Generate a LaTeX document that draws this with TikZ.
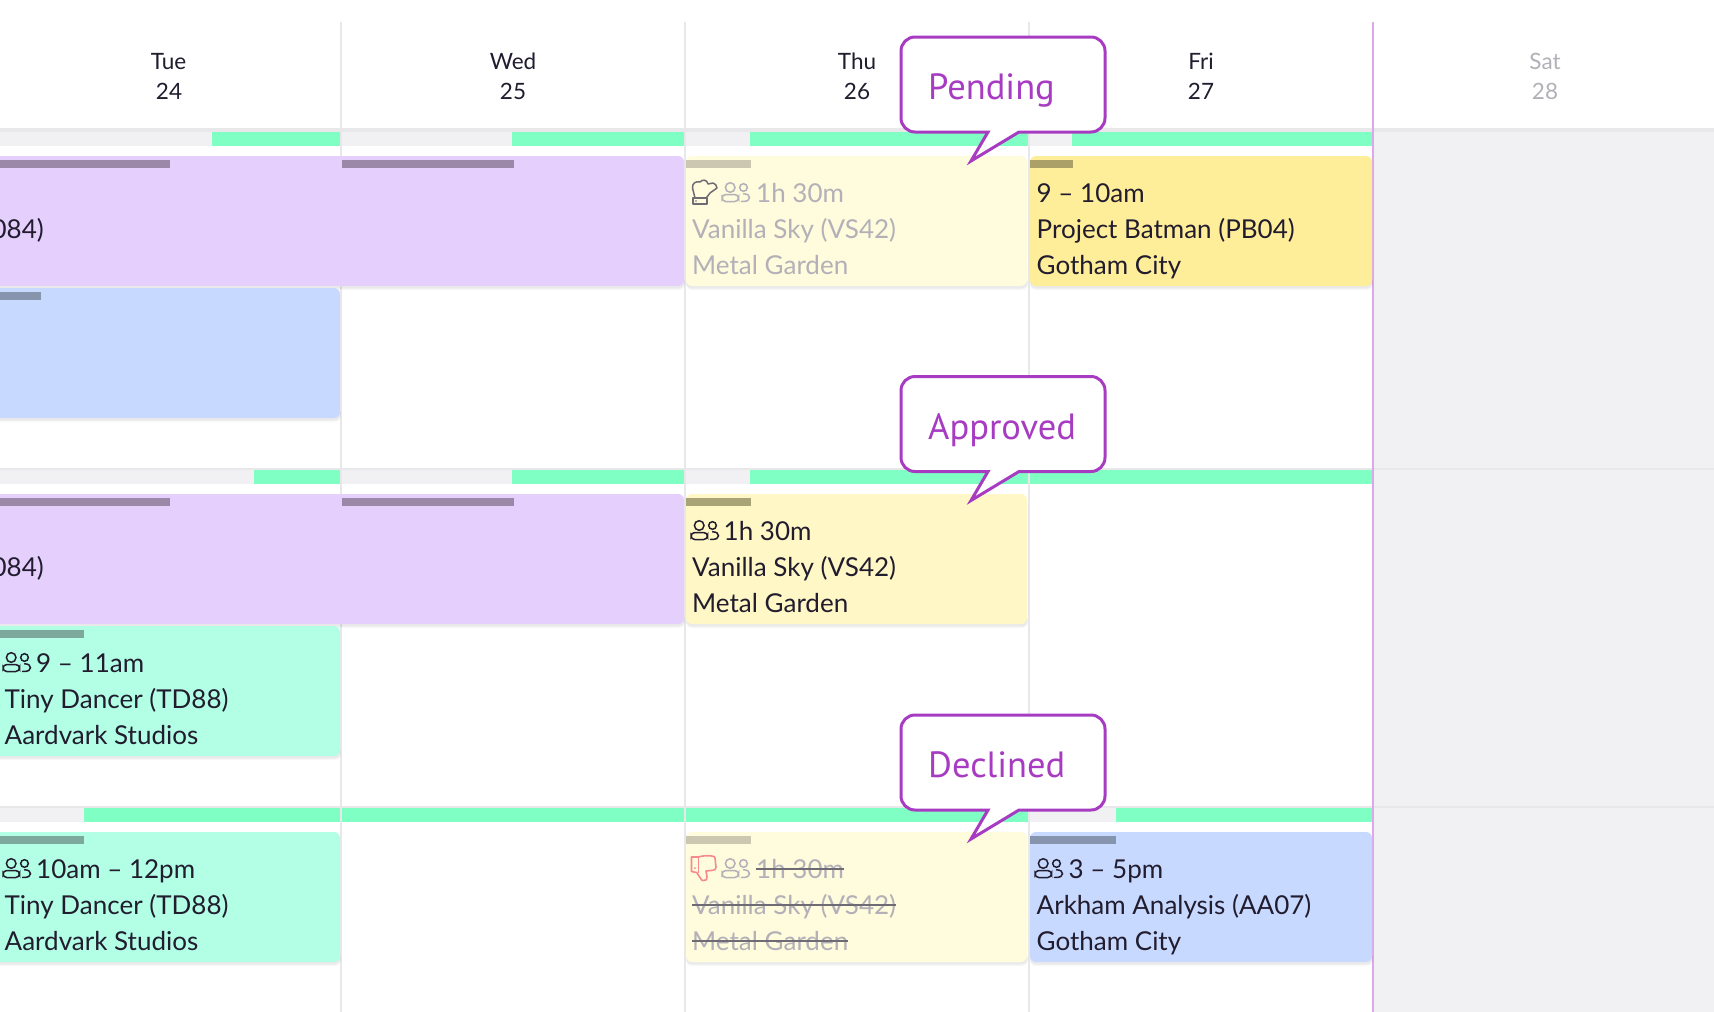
\documentclass[tikz,border=0pt]{standalone}
\usepackage{fontspec}
\setmainfont{Lato}
\newfontfamily\calloutfont{PT Sans}
\definecolor{ink}{HTML}{211C2E}
\definecolor{faded}{HTML}{B3B0B8}
\definecolor{gridl}{HTML}{E8E8EA}
\definecolor{greybg}{HTML}{F1F1F3}
\definecolor{mint}{HTML}{7FFFC4}
\definecolor{violetc}{HTML}{E4CFFD}
\definecolor{violets}{HTML}{9B88A9}
\definecolor{bluec}{HTML}{C8D9FF}
\definecolor{blues}{HTML}{8794AE}
\definecolor{greenc}{HTML}{B2FFE5}
\definecolor{greens}{HTML}{7CA99C}
\definecolor{yellowc}{HTML}{FFEE99}
\definecolor{yellows}{HTML}{ABA067}
\definecolor{creamc}{HTML}{FFF8C6}
\definecolor{creams}{HTML}{A9A478}
\definecolor{paleC}{HTML}{FFFBDD}
\definecolor{pales}{HTML}{CBC7B0}
\definecolor{calloutc}{HTML}{A73CC2}
\definecolor{satline}{HTML}{DDA8EA}
\definecolor{thumb}{HTML}{F58A8E}
\definecolor{striket}{HTML}{6E6B75}
\tikzset{
  x=1pt,y=1pt,
  cardtext/.style={anchor=base west,inner sep=0pt,font=\fontsize{26}{26}\selectfont,text=ink},
  fadedtext/.style={cardtext,text=faded},
  headtext/.style={anchor=base,inner sep=0pt,font=\fontsize{22.5}{22.5}\selectfont,text=ink},
  calltext/.style={anchor=base west,inner sep=0pt,font=\calloutfont\fontsize{36.5}{36.5}\selectfont,text=calloutc},
  callbox/.style={draw=calloutc,line width=3pt,fill=white,line join=miter},
  striked/.style={draw=striket,line width=2.2pt},
  gridrule/.style={draw=gridl,line width=2pt}
}
% card: x0,x1,top(y down),fill,stripcolor,stripwidth
\newcommand{\cardbox}[6]{%
  \fill[black,opacity=.03] (#1,-#3-134) [rounded corners=6pt] rectangle (#2+1,-#3-120);
  \fill[black,opacity=.05] (#1,-#3-132.5) [rounded corners=6pt] rectangle (#2+.5,-#3-120);
  \fill[#4,rounded corners=6pt] (#1,-#3) rectangle (#2,-#3-130);
  \fill[#5] (#1,-#3-4) rectangle ({#1+#6},-#3-12);}
% people icon, lower-left corner at x,y(y down), colour
\newcommand{\peopleicon}[3]{%
  \begin{scope}[shift={(#1,-#2)},draw=#3,line width=1.5pt,line cap=round]
    \draw (9.2,14.5) circle (4.8);
    \draw[rounded corners=3.8pt] (1,0.5) rectangle (17.5,7.5);
    \draw (22.5,14.5) circle (3.8);
    \draw (22.5,8.2) .. controls (26.5,8.2) and (28.5,6.5) .. (28.5,4.2) .. controls (28.5,1.8) and (26.5,0.5) .. (20.5,0.5);
  \end{scope}}
\begin{document}
\begin{tikzpicture}
\useasboundingbox (0,0) rectangle (1714,-1012);
\fill[white] (0,0) rectangle (1714,-1012);
% Saturday column
\fill[greybg] (1373,-132) rectangle (1714,-1012);
% row rules
\foreach \ry in {468.5,806.5} {\draw[gridrule] (0,-\ry) -- (1714,-\ry);}
\draw[gridrule,line width=4pt] (0,-130) -- (1714,-130);
% availability bars
\foreach \ry in {132,470,808} {\fill[greybg] (0,-\ry) rectangle (1373,-\ry-14);}
\foreach \a/\b/\ry in {212/340/132,512/684/132,750/1028/132,1072/1372/132,
  254/340/470,512/684/470,750/1028/470,1030/1372/470,
  84/340/808,342/684/808,686/1028/808,1116/1372/808}
  {\fill[mint] (\a,-\ry) rectangle (\b,-\ry-14);}
% column rules
\foreach \cx in {341,685,1029} {\draw[gridrule] (\cx,-22) -- (\cx,-1012);}
\draw[satline,line width=2pt] (1373,-22) -- (1373,-1012);
% cards
\cardbox{-20}{684}{156}{violetc}{white}{0}
\fill[violets] (0,-160) rectangle (170,-168); \fill[violets] (342,-160) rectangle (514,-168);
\cardbox{-20}{340}{288}{bluec}{blues}{61}
\cardbox{686}{1027}{156}{paleC}{pales}{65}
\cardbox{1030}{1372}{156}{yellowc}{yellows}{43}
\cardbox{-20}{684}{494}{violetc}{white}{0}
\fill[violets] (0,-498) rectangle (170,-506); \fill[violets] (342,-498) rectangle (514,-506);
\cardbox{-20}{340}{626}{greenc}{greens}{104}
\cardbox{686}{1027}{494}{creamc}{creams}{65}
\cardbox{-20}{340}{832}{greenc}{greens}{104}
\cardbox{686}{1027}{832}{paleC}{pales}{65}
\cardbox{1030}{1372}{832}{bluec}{blues}{86}
% headers
\node[headtext] (tue) at (168.5,-69) {Tue};
\node[headtext] (tuen) at (169,-99.5) {24};
\node[headtext] (wed) at (513,-69) {Wed};
\node[headtext] (wedn) at (513,-99.5) {25};
\node[headtext] (thu) at (857,-69) {Thu};
\node[headtext] (thun) at (857,-99.5) {26};
\node[headtext] (fri) at (1201,-69) {Fri};
\node[headtext] (frin) at (1201,-99.5) {27};
\node[headtext,text=faded] (sat) at (1545,-69) {Sat};
\node[headtext,text=faded] (satn) at (1545,-99.5) {28};
% clipped purple titles
\begin{scope}
\clip (0,0) rectangle (1714,-1012);
\node[cardtext,anchor=base east] (purpa) at (44,-238) {D084)};
\node[cardtext,anchor=base east] (purpb) at (44,-576) {D084)};
\end{scope}
% row 1
\peopleicon{721}{202}{faded}
\begin{scope}[shift={(692,-204)},draw=striket,line width=1.5pt,line join=round]
  \draw (3,6) -- (0.5,16) .. controls (0,21) and (4,23) .. (8,22) .. controls (10,24.5) and (15,25) .. (16,20) -- (21,21) .. controls (23,21) and (25,18) .. (25,16) -- (18,11) -- (15,7) -- (14,6);
  \draw (1,0) rectangle (15,6);
  \fill[striket] (4,3) circle (.8);
\end{scope}
\node[fadedtext] (a1) at (756,-202) {1h 30m};
\node[fadedtext] (a2) at (692,-238) {Vanilla Sky (VS42)};
\node[fadedtext] (a3) at (692,-274) {Metal Garden};
\node[cardtext] (b1) at (1036.5,-202) {9 – 10am};
\node[cardtext] (b2) at (1036.5,-238) {Project Batman (PB04)};
\node[cardtext] (b3) at (1036.5,-274) {Gotham City};
% row 2
\peopleicon{690}{540}{ink}
\node[cardtext] (c1) at (723.5,-540) {1h 30m};
\node[cardtext] (c2) at (692,-576) {Vanilla Sky (VS42)};
\node[cardtext] (c3) at (692,-612) {Metal Garden};
\peopleicon{2}{672}{ink}
\node[cardtext] (d1) at (36,-672) {9 – 11am};
\node[cardtext] (d2) at (4.5,-708) {Tiny Dancer (TD88)};
\node[cardtext] (d3) at (4.5,-744) {Aardvark Studios};
% row 3
\peopleicon{2}{878}{ink}
\node[cardtext] (e1) at (36,-878) {10am – 12pm};
\node[cardtext] (e2) at (4.5,-914) {Tiny Dancer (TD88)};
\node[cardtext] (e3) at (4.5,-950) {Aardvark Studios};
\peopleicon{721}{878}{faded}
\begin{scope}[shift={(691,-878)},draw=thumb,line width=1.6pt,line join=round]
  \draw (0.5,6.5) -- (0.5,21) -- (7.3,21) .. controls (12,22.5) and (18,22.5) .. (20.7,22) .. controls (23,22) and (24,21) .. (24,20) -- (25,11) .. controls (25,9) and (24,7.7) .. (22,7.7) -- (15,7) -- (16,1.3) .. controls (16,-2) and (14,-3) .. (12,-2.5) -- (10.7,-2) -- (5.7,5.5) -- cycle;
  \draw (7.3,21) -- (7.3,5);
  \fill[thumb] (4,10) circle (1);
\end{scope}
\node[fadedtext] (f1) at (756,-878) {1h 30m};
\node[fadedtext] (f2) at (692,-914) {Vanilla Sky (VS42)};
\node[fadedtext] (f3) at (692,-950) {Metal Garden};
\foreach \n in {f1,f2,f3} {\draw[striked] ([yshift=9]\n.base west) -- ([yshift=9]\n.base east);}
\peopleicon{1034}{878}{ink}
\node[cardtext] (g1) at (1068.5,-878) {3 – 5pm};
\node[cardtext] (g2) at (1036.5,-914) {Arkham Analysis (AA07)};
\node[cardtext] (g3) at (1036.5,-950) {Gotham City};
% callouts
\foreach \dy/\lab/\nm/\ty in {0/Pending/pending/-99,339.5/Approved/approved/-100,678/Declined/declined/-99.5} {
  \begin{scope}[yshift=-\dy]
    \draw[callbox] (915,-37) -- (1091,-37) arc[start angle=90,end angle=0,radius=14] -- (1105,-118) arc[start angle=0,end angle=-90,radius=14] -- (1019,-132) -- (971,-161) -- (988,-132) -- (915,-132) arc[start angle=270,end angle=180,radius=14] -- (901,-51) arc[start angle=180,end angle=90,radius=14] -- cycle;
    \node[calltext] (\nm) at (928,\ty) {\lab};
  \end{scope}
}
\end{tikzpicture}
\end{document}
